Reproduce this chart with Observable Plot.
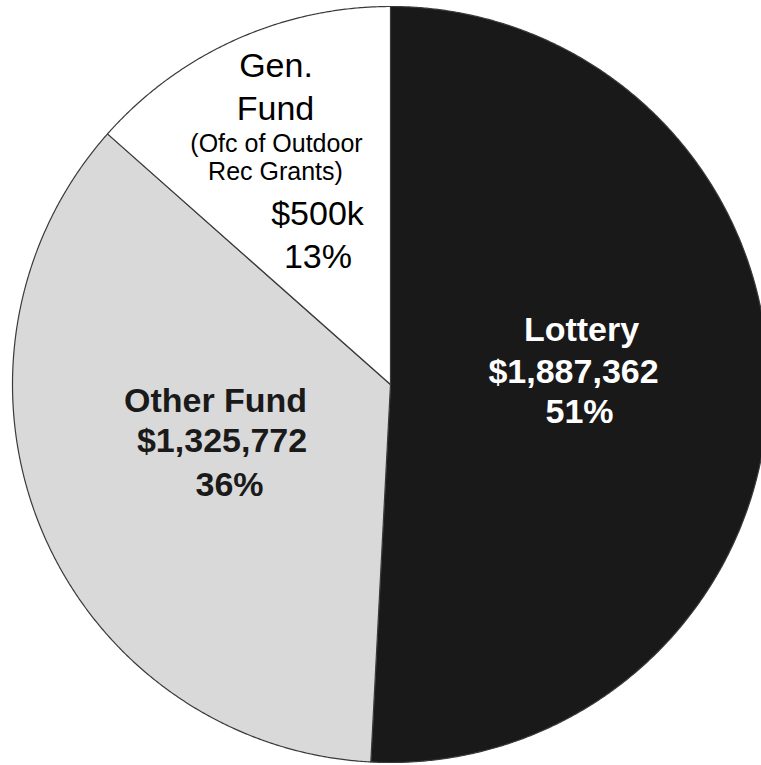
<!DOCTYPE html>
<html>
<head>
<meta charset="utf-8">
<script src="https://cdn.jsdelivr.net/npm/d3@7"></script>
<script src="https://cdn.jsdelivr.net/npm/@observablehq/plot@0.6"></script>
<style>
  html, body { margin: 0; padding: 0; background: #ffffff; }
  #chart svg { display: block; }
</style>
</head>
<body>
<div id="chart"></div>
<script>
// ---- data ----
const categories = ["Lottery", "Other Fund", "Gen. Fund"];
const values = [1887362, 1325772, 500000];
const labelLines = [
  ["Lottery", "$1,887,362", "51%"],
  ["Other Fund", "$1,325,772", "36%"],
  ["Gen.", "Fund", "(Ofc of Outdoor", "Rec Grants)", "$500k", "13%"]
];

// ---- styling / layout (not data) ----
const colors = ["#191919", "#d9d9d9", "#ffffff"];
const W = 761, H = 765;
const CX = 390, CY = 384, R = 378; // pixel center & radius
const lineStyles = [
  [ // Lottery
    {dx: -35.7, dy: -49.9, size: 34, weight: "bold", fill: "#ffffff"},
    {dx: -43.7, dy: -7.9, size: 34, weight: "bold", fill: "#ffffff"},
    {dx: -37.7, dy: 32.1, size: 34, weight: "bold", fill: "#ffffff"}
  ],
  [ // Other Fund
    {dx: 34.2, dy: -59.7, size: 34, weight: "bold", fill: "#1a1a1a"},
    {dx: 40.7, dy: -19.7, size: 34, weight: "bold", fill: "#1a1a1a"},
    {dx: 48.2, dy: 24.3, size: 34, weight: "bold", fill: "#1a1a1a"}
  ],
  [ // Gen. Fund
    {dx: -21.4, dy: -100.2, size: 34, weight: "normal", fill: "#000000"},
    {dx: -21.9, dy: -57.2, size: 34, weight: "normal", fill: "#000000"},
    {dx: -20.9, dy: -25.2, size: 25, weight: "normal", fill: "#000000"},
    {dx: -21.9, dy: 2.8, size: 25, weight: "normal", fill: "#000000"},
    {dx: 20.1, dy: 47.8, size: 34, weight: "normal", fill: "#000000"},
    {dx: 20.6, dy: 90.8, size: 34, weight: "normal", fill: "#000000"}
  ]
];

// ---- derived geometry (unit circle, angles clockwise from 12 o'clock) ----
const table = categories.map((name, i) => ({name, value: values[i]}));
const arcs = d3.pie().sort(null).value(d => d.value)(table);
const polys = [];
arcs.forEach(a => {
  const name = a.data.name;
  polys.push({name, x: 0, y: 0});
  const n = Math.max(2, Math.ceil((a.endAngle - a.startAngle) / 0.005));
  for (let k = 0; k <= n; k++) {
    const t = a.startAngle + (a.endAngle - a.startAngle) * k / n;
    polys.push({name, x: Math.sin(t), y: Math.cos(t)});
  }
  polys.push({name, x: 0, y: 0});
});
const centroids = arcs.map(a => {
  const m = (a.startAngle + a.endAngle) / 2;
  return {name: a.data.name, x: 0.6 * Math.sin(m), y: 0.6 * Math.cos(m)};
});

const xDomain = [(0 - CX) / R, (W - CX) / R];
const yDomain = [-(H - CY) / R, CY / R];

const textMarks = [];
labelLines.forEach((lines, i) => {
  lines.forEach((txt, j) => {
    const s = lineStyles[i][j];
    textMarks.push(Plot.text([centroids[i]], {
      x: "x", y: "y", text: () => txt,
      dx: s.dx, dy: s.dy,
      lineAnchor: "bottom", textAnchor: "middle",
      fontSize: s.size, fontWeight: s.weight, fill: s.fill,
      fontFamily: "'Liberation Sans', Arial, sans-serif"
    }));
  });
});

const chart = Plot.plot({
  width: W,
  height: H,
  margin: 0,
  x: {domain: xDomain, axis: null},
  y: {domain: yDomain, axis: null},
  color: {domain: categories, range: colors},
  style: {background: "#ffffff", fontFamily: "'Liberation Sans', Arial, sans-serif"},
  marks: [
    Plot.line(polys, {
      x: "x", y: "y", z: "name", fill: "name",
      stroke: "#3a3a3a", strokeWidth: 1.2, curve: "linear"
    }),
    ...textMarks
  ]
});
document.getElementById("chart").appendChild(chart);
</script>
</body>
</html>
